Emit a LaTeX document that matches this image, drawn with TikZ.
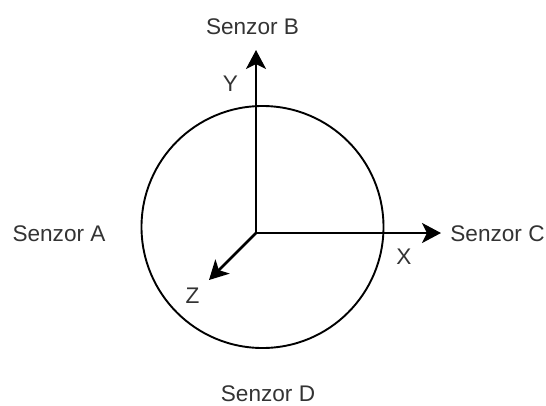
\documentclass[tikz,border=0pt]{standalone}
\usepackage{fontspec}
\setmainfont{Liberation Sans}
\usetikzlibrary{arrows.meta}
\definecolor{txt}{HTML}{333333}
\tikzset{
  lbl/.style={inner sep=0pt, text=txt, font=\fontsize{22.6}{27}\selectfont},
  axis/.style={line width=2.8pt, -{Stealth[length=19pt, width=20pt, inset=5pt]}},
  ballstyle/.style={circle, draw, line width=1.9pt, minimum size=242pt, inner sep=0pt}
}
\begin{document}
\begin{tikzpicture}[x=1pt, y=-1pt]
\useasboundingbox (0,0) rectangle (546,405);
\node[ballstyle] (ball) at (262.5,227) {};
\coordinate (O) at (256,233);
\coordinate (ytip) at (256,50);
\coordinate (xtip) at (441,233);
\coordinate (ztip) at (209,280);
\draw[axis, line cap=rect] (O) -- (ytip);
\draw[axis] (O) -- (xtip);
\draw[axis] (O) -- (ztip);
\node[lbl] (sb) at (252.5,26.5) {Senzor B};
\node[lbl] (sa) at (59,233.5) {Senzor A};
\node[lbl] (sc) at (497.5,233.5) {Senzor C};
\node[lbl] (sd) at (268,393.5) {Senzor D};
\node[lbl] (ly) at (230.5,83.5) {Y};
\node[lbl] (lx) at (404,256.5) {X};
\node[lbl] (lz) at (192.5,295.5) {Z};
\end{tikzpicture}
\end{document}
